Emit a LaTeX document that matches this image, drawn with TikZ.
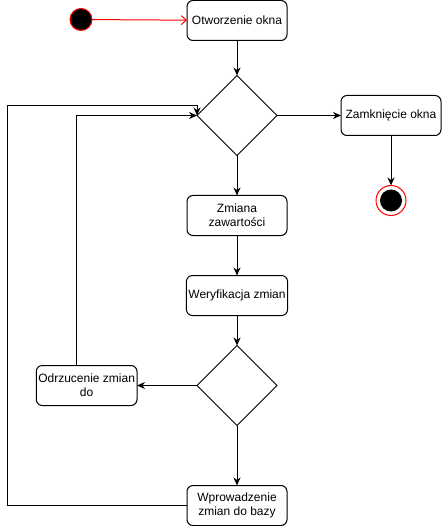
\documentclass[tikz,border=0pt]{standalone}
\usepackage{fontspec}
\setmainfont{Liberation Sans}
\usepackage{tikz}
\usetikzlibrary{calc,positioning,arrows.meta,shapes.geometric}

\begin{document}
\begin{tikzpicture}[x=1pt, y=1pt, node distance=40pt, outer sep=0pt,
        font=\fontsize{12pt}{14pt}\selectfont,
        block/.style={rectangle, draw, line width=1pt, rounded corners=6pt, minimum width=100pt, minimum height=40pt, inner sep=2pt, align=center, fill=white},
        decision/.style={diamond, draw, line width=1pt, minimum width=80pt, minimum height=80pt, inner sep=0pt, fill=white},
        startdot/.style={circle, draw=red, fill=black, line width=1pt, minimum size=22pt, inner sep=0pt},
        stopring/.style={circle, draw=red, fill=white, line width=1pt, minimum size=30pt, inner sep=0pt},
        arrow/.style={-{Stealth[length=8pt,width=7pt,inset=2.5pt]}, line width=1pt}]

        \useasboundingbox (0,0) rectangle (443,-526);

        \node[block] (open) at (237,-20.5) {Otworzenie okna};
        \node[startdot] (start) at (81,-19.5) {};
        \node[decision, below=35pt of open] (choice) {};
        \node[block, right=64pt of choice] (close) {Zamknięcie okna};
        \node[stopring, below=50pt of close] (stop) {};
        \node[startdot, draw=none] (stopdot) at (stop) {};
        \node[block, below=of choice] (change) {Zmiana\\zawartości};
        \node[block, below=of change] (verify) {Weryfikacja zmian};
        \node[decision, below=30pt of verify] (test) {};
        \node[block, left=60pt of test] (reject) {Odrzucenie zmian\\do};
        \node[block, below=60pt of test] (commit) {Wprowadzenie\\zmian do bazy};

        \draw[red, line width=1pt, -{Straight Barb[length=5pt,width=9pt]}] (start) -- (open);
        \draw[arrow] (open) -- (choice);
        \draw[arrow] (choice) -- (close);
        \draw[arrow] (close) -- (stop);
        \draw[arrow] (choice) -- (change);
        \draw[arrow] (change) -- (verify);
        \draw[arrow] (verify) -- (test);
        \draw[arrow] (test) -- (reject);
        \draw[arrow] (test) -- (commit);

        % loops back to the first choice
        \draw[arrow] ($(reject.north)+(-10pt,0)$) |- (choice.west);
        \draw[arrow] (commit.west) -- ++(-180pt,0) |- ($(choice.west)+(0,10pt)$) -- (choice.west);
    \end{tikzpicture}
\end{document}
